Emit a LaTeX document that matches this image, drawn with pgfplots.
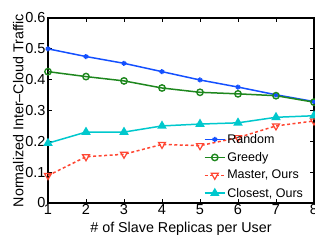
\documentclass[border=0pt]{standalone}
\usepackage{fontspec}
\setmainfont{Liberation Sans}
\usepackage{pgfplots}
\pgfplotsset{compat=1.18}
\definecolor{cRand}{RGB}{20,80,255}
\definecolor{cGreedy}{RGB}{30,135,30}
\definecolor{cMaster}{RGB}{255,70,50}
\definecolor{cClose}{RGB}{0,200,205}
\begin{document}
\begin{tikzpicture}
\begin{axis}[name=ax,
  scale only axis, width=266pt, height=185pt,
  xmin=1, xmax=8, ymin=0, ymax=0.6,
  xtick={1,...,8}, ytick={0,0.1,...,0.6},
  yticklabels={0,0.1,0.2,0.3,0.4,0.5,0.6},
  tick align=inside, axis line style={line width=1.3pt},
  tick style={black, line width=0.7pt}, major tick length=4pt,
  ticklabel style={font=\fontsize{14.5}{15}\selectfont},
  /pgf/number format/assume math mode=true,
  xticklabel style={yshift=2pt},
  yticklabel style={xshift=1pt},
  xlabel={\# of Slave Replicas per User},
  ylabel={Normalized Inter--Cloud Traffic},
  label style={font=\fontsize{14.3}{15}\selectfont},
  xlabel style={at={(axis description cs:0.5,0)}, anchor=base, yshift=-30pt},
  ylabel style={yshift=-5pt},
  legend style={draw=none, fill=none, at={(0.585,0.015)}, anchor=south west,
    inner sep=0pt, font=\fontsize{12.5}{13}\selectfont, row sep=4.5pt,
    nodes={inner sep=1.5pt}},
  legend cell align=left,
  legend image code/.code={\draw[mark repeat=2,mark phase=2,#1] plot coordinates {(0cm,0cm) (0.36cm,0cm) (0.72cm,0cm)};},
  clip=false,
]
\addplot[cRand, line width=1.5pt, mark=asterisk, mark size=2.5pt] coordinates {
(1,0.500) (2,0.475) (3,0.453) (4,0.426) (5,0.399) (6,0.376) (7,0.351) (8,0.329)};
\addlegendentry{Random}
\addplot[cGreedy, line width=1.5pt, mark=o, mark size=3.2pt, mark options={line width=1.4pt}] coordinates {
(1,0.426) (2,0.410) (3,0.396) (4,0.373) (5,0.359) (6,0.354) (7,0.348) (8,0.327)};
\addlegendentry{Greedy}
\addplot[cMaster, line width=1.5pt, dash pattern=on 3pt off 2.5pt, mark=triangle, mark size=4pt, mark options={solid, rotate=180, line width=1.2pt}] coordinates {
(1,0.089) (2,0.150) (3,0.158) (4,0.190) (5,0.186) (6,0.212) (7,0.250) (8,0.266)};
\addlegendentry{Master, Ours}
\addplot[cClose, line width=1.5pt, mark=triangle*, mark size=4pt, mark options={solid}] coordinates {
(1,0.194) (2,0.230) (3,0.230) (4,0.250) (5,0.256) (6,0.260) (7,0.278) (8,0.283)};
\addlegendentry{Closest, Ours}
\end{axis}
\pgfresetboundingbox
\path ([xshift=-48pt,yshift=-39pt]ax.south west) rectangle ([xshift=1pt,yshift=18pt]ax.north east);
\end{tikzpicture}
\end{document}
